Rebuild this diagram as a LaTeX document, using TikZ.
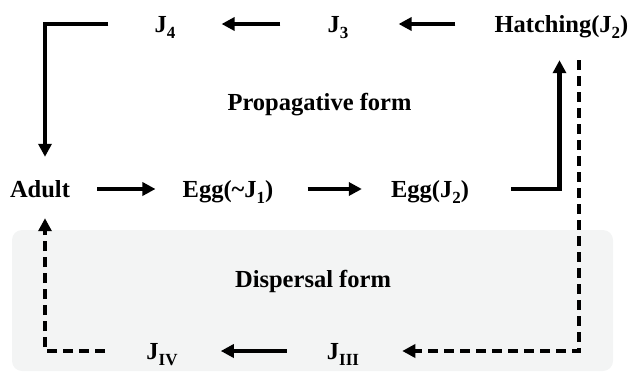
\documentclass[tikz,border=0pt]{standalone}
\usepackage{fontspec}
\setmainfont{Liberation Serif}
\usetikzlibrary{arrows.meta,calc}
\definecolor{boxgray}{HTML}{F3F4F4}
\newcommand{\jsub}[1]{\raisebox{-6pt}{\fontsize{17}{17}\selectfont #1}}
\tikzset{
  lbl/.style={inner sep=0pt, text height=16pt, text depth=0pt, anchor=center,
    font=\fontsize{24.5}{28}\selectfont\bfseries},
  arr/.style={line width=4.8pt, -{Triangle[length=13pt,width=13pt]}},
  darr/.style={arr, dash pattern=on 10pt off 6pt},
}
\begin{document}
\begin{tikzpicture}[x=1pt,y=-1pt]
\useasboundingbox (0,0) rectangle (632,375);
\fill[boxgray, rounded corners=10pt] (12,230) rectangle (613,371);

\node[lbl] (hatch) at (561.5,24) {Hatching(J\jsub{2})};
\node[lbl] (j3) at (338,24) {J\jsub{3}};
\node[lbl] (j4) at (165,24) {J\jsub{4}};
\node[lbl] (adult) at (40,189) {Adult};
\node[lbl] (egg1) at (228,189) {Egg(\textasciitilde J\jsub{1})};
\node[lbl] (egg2) at (430,189) {Egg(J\jsub{2})};
\node[lbl] (jiii) at (343,351) {J\jsub{III}};
\node[lbl] (jiv) at (162,351) {J\jsub{IV}};
\node[lbl] (prop) at (319.5,102) {Propagative form};
\node[lbl] (disp) at (313,279) {Dispersal form};

\draw[arr, shorten <=39pt, shorten >=50pt] (hatch.west) -- (j3.east);
\draw[arr, shorten <=47pt, shorten >=46pt] (j3.west) -- (j4.east);
\draw[arr, shorten <=46pt, shorten >=24pt] (j4.west) -| ([xshift=5pt]adult.north);
\draw[arr, shorten <=27pt, shorten >=27pt] (adult.east) -- (egg1.west);
\draw[arr, shorten <=34pt, shorten >=29pt] (egg1.east) -- (egg2.west);
\draw[arr, shorten <=42pt, shorten >=28pt] (egg2.east) -| ([xshift=-2pt]hatch.south);
\draw[darr, shorten <=28pt, shorten >=43pt] ([xshift=17.5pt]hatch.south) |- (jiii.east);
\draw[arr, shorten <=40pt, shorten >=43pt] (jiii.west) -- (jiv.east);
\draw[darr, shorten <=41pt, shorten >=21pt] (jiv.west) -| ([xshift=5pt]adult.south);
\end{tikzpicture}
\end{document}
